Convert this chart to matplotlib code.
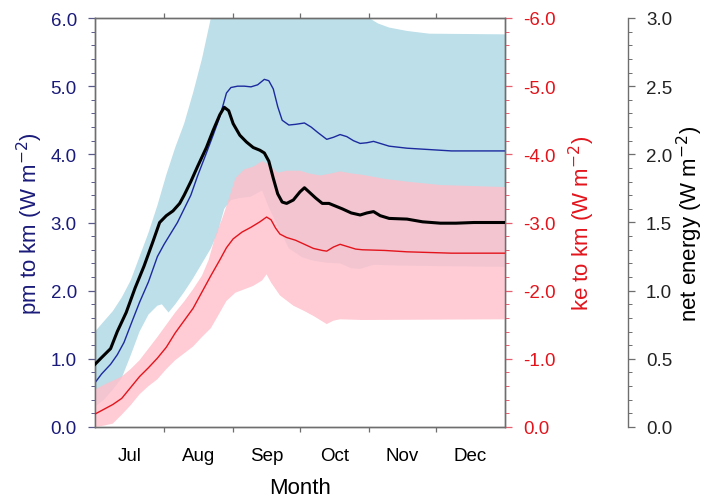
import matplotlib
matplotlib.use("Agg")
import matplotlib.pyplot as plt
from matplotlib.ticker import MultipleLocator, AutoMinorLocator, FormatStrFormatter, FixedLocator, NullFormatter

plt.rcParams["font.family"] = ["Liberation Sans", "DejaVu Sans"]
plt.rcParams["axes.unicode_minus"] = False

# days since 1 Jul
month_starts = [31, 62, 92, 123, 153]
month_mids = [15.5, 46.5, 77, 107.5, 138, 168.5]
month_labels = ["Jul", "Aug", "Sep", "Oct", "Nov", "Dec"]

# pm to km (left axis)
pm_days = [0, 3, 7, 10, 13, 17, 20, 24, 28, 31, 34, 37, 40, 43, 46, 50, 53, 56, 59, 61,
           64, 67, 70, 73, 76, 78, 80, 82, 84, 87, 90, 94, 97, 100, 104, 107, 110, 113,
           116, 119, 122, 125, 128, 132, 140, 150, 160, 170, 184]
pm_mean = [0.65, 0.78, 0.92, 1.06, 1.24, 1.58, 1.83, 2.13, 2.50, 2.68, 2.84, 3.00, 3.20,
           3.40, 3.68, 4.02, 4.28, 4.55, 4.90, 4.98, 5.00, 5.00, 4.99, 5.02, 5.10, 5.08,
           4.96, 4.70, 4.50, 4.43, 4.44, 4.46, 4.40, 4.32, 4.22, 4.25, 4.29, 4.26, 4.20,
           4.16, 4.17, 4.19, 4.16, 4.12, 4.09, 4.07, 4.05, 4.05, 4.05]

pm_band_days = [0, 4, 8, 12, 16, 20, 24, 28, 30, 33, 36, 40, 44, 48, 52, 55, 58, 61, 65,
                70, 75, 78, 82, 87, 93, 98, 104, 110, 115, 119, 125, 135, 155, 184]
pm_low = [0.30, 0.40, 0.55, 0.72, 1.05, 1.40, 1.65, 1.78, 1.80, 1.68, 1.80, 1.98, 2.18,
          2.40, 2.62, 2.85, 3.20, 3.33, 3.36, 3.38, 3.47, 3.22, 2.95, 2.62, 2.49, 2.44,
          2.41, 2.40, 2.33, 2.32, 2.38, 2.37, 2.36, 2.35]
pm_up_days = [0, 4, 8, 12, 16, 20, 24, 28, 32, 36, 40, 44, 48, 52, 56, 120, 123, 127,
              132, 140, 150, 184]
pm_up = [1.40, 1.55, 1.70, 1.90, 2.15, 2.50, 2.85, 3.25, 3.70, 4.10, 4.45, 4.90, 5.40,
         6.00, 6.30, 6.30, 6.00, 5.92, 5.86, 5.81, 5.77, 5.76]

# ke to km (right axis, negative)
ke_days = [0, 4, 8, 12, 16, 20, 24, 28, 32, 36, 40, 44, 48, 52, 56, 59, 62, 66, 70, 74,
           77, 79, 81, 83, 86, 90, 94, 98, 102, 104, 107, 110, 113, 117, 120, 130, 140,
           150, 160, 184]
ke_mean = [-0.19, -0.26, -0.33, -0.42, -0.58, -0.74, -0.87, -1.01, -1.17, -1.38, -1.56,
           -1.74, -1.98, -2.22, -2.45, -2.63, -2.76, -2.86, -2.93, -3.01, -3.08, -3.04,
           -2.92, -2.83, -2.78, -2.74, -2.68, -2.62, -2.59, -2.58, -2.64, -2.68, -2.65,
           -2.61, -2.60, -2.59, -2.57, -2.56, -2.55, -2.55]

ke_up_days = [0, 4, 8, 12, 16, 20, 24, 28, 32, 36, 40, 44, 48, 51, 54, 57, 60, 63, 67,
              71, 75, 78, 82, 86, 92, 96, 101, 106, 110, 115, 120, 130, 140, 155, 184]
ke_up = [-0.55, -0.62, -0.68, -0.74, -0.85, -0.98, -1.15, -1.32, -1.50, -1.68, -1.84,
         -2.02, -2.22, -2.45, -2.80, -3.05, -3.34, -3.65, -3.78, -3.82, -3.90, -3.85,
         -3.73, -3.76, -3.76, -3.72, -3.69, -3.72, -3.75, -3.72, -3.70, -3.64, -3.60,
         -3.55, -3.52]
ke_low_days = [0, 4, 8, 12, 16, 20, 24, 28, 32, 36, 40, 44, 48, 52, 55, 59, 63, 67, 71,
               75, 77, 79, 83, 89, 94, 98, 104, 107, 110, 120, 184]
ke_low = [0.0, -0.02, -0.05, -0.18, -0.32, -0.48, -0.60, -0.70, -0.85, -0.98, -1.08,
          -1.18, -1.32, -1.45, -1.62, -1.85, -1.97, -2.02, -2.07, -2.15, -2.24, -2.12,
          -1.93, -1.78, -1.70, -1.63, -1.51, -1.56, -1.58, -1.57, -1.58]

# net energy (far right axis)
net_days = [0, 3, 7, 10, 14, 18, 22, 26, 29, 32, 35, 38, 40, 43, 46, 50, 53, 56, 58, 60,
            62, 65, 68, 71, 74, 76, 78, 80, 82, 84, 86, 89, 92, 94, 96, 99, 102, 105,
            108, 111, 115, 119, 122, 125, 128, 132, 140, 147, 155, 162, 170, 184]
net = [0.46, 0.51, 0.575, 0.70, 0.84, 1.02, 1.18, 1.36, 1.50, 1.55, 1.585, 1.64, 1.70,
       1.80, 1.91, 2.05, 2.175, 2.29, 2.345, 2.32, 2.225, 2.14, 2.09, 2.05, 2.03, 2.01,
       1.95, 1.825, 1.71, 1.65, 1.64, 1.665, 1.725, 1.755, 1.725, 1.68, 1.64, 1.64,
       1.62, 1.60, 1.57, 1.555, 1.57, 1.58, 1.55, 1.53, 1.525, 1.505, 1.495, 1.495,
       1.50, 1.50]

navy = "#1a1a7a"
blue = "#1c2a9e"
red = "#e3141c"
spine_gray = "#6e6e6e"
FS_TICK = 13.5
FS_LABEL = 16


def fill_band(axis, d_lo, lo, d_hi, hi, **kw):
    # polygon: lower edge forward, upper edge back
    xs = list(d_lo) + list(d_hi)[::-1]
    ys = list(lo) + list(hi)[::-1]
    axis.fill(xs, ys, lw=0, **kw)


fig = plt.figure(figsize=(7.07, 5.02), dpi=100)
ax = fig.add_axes([95 / 707, 74 / 502, 410 / 707, 409 / 502])
ax2 = ax.twinx()
ax3 = ax.twinx()

fill_band(ax, pm_band_days, pm_low, pm_up_days, pm_up, color="#bcdfe9", zorder=1)
ax.plot(pm_days, pm_mean, color=blue, lw=1.0, zorder=3)

fill_band(ax2, ke_low_days, ke_low, ke_up_days, ke_up, color="#ffc0cb", alpha=0.82, zorder=1)
ax2.plot(ke_days, ke_mean, color=red, lw=1.0, zorder=3)

ax3.plot(net_days, net, color="black", lw=2.2, zorder=4)

ax.set_xlim(0, 184)
ax.set_ylim(0, 6)
ax2.set_ylim(0, -6)
ax3.set_ylim(0, 3)

# x axis: month boundaries as ticks, names centred in between
ax.xaxis.set_major_locator(FixedLocator(month_starts))
ax.xaxis.set_major_formatter(NullFormatter())
ax.xaxis.set_minor_locator(FixedLocator(month_mids))
ax.xaxis.set_minor_formatter(plt.FixedFormatter(month_labels))
ax.tick_params(axis="x", which="major", direction="out", length=3.8, width=0.9,
               color=spine_gray, top=True, bottom=True)
ax.tick_params(axis="x", which="minor", length=0, pad=14.5, labelsize=FS_TICK, labelcolor="black")
ax.set_xlabel("Month", fontsize=FS_LABEL, labelpad=9)

for a in (ax, ax2, ax3):
    for s in a.spines.values():
        s.set_color(spine_gray)
        s.set_linewidth(1.0)

# left axis
ax.yaxis.set_major_locator(MultipleLocator(1.0))
ax.yaxis.set_minor_locator(AutoMinorLocator(5))
ax.yaxis.set_major_formatter(FormatStrFormatter("%.1f"))
ax.tick_params(axis="y", which="major", direction="out", length=5, width=0.9,
               color="#5a5a8a", labelcolor=navy, labelsize=FS_TICK, pad=8)
ax.tick_params(axis="y", which="minor", direction="out", length=3, width=0.7, color="#5a5a8a")
ax.set_ylabel("pm to km (W m$^{-2}$)", color=navy, fontsize=FS_LABEL, labelpad=4)

# right axis (ke, inverted)
ax2.yaxis.set_major_locator(MultipleLocator(1.0))
ax2.yaxis.set_minor_locator(AutoMinorLocator(5))
ax2.yaxis.set_major_formatter(FormatStrFormatter("%.1f"))
ax2.tick_params(axis="y", which="major", direction="out", length=5, width=0.9,
                color="#e86070", labelcolor=red, labelsize=FS_TICK, pad=8)
ax2.tick_params(axis="y", which="minor", direction="out", length=3, width=0.7, color="#e86070")
ax2.set_ylabel("ke to km (W m$^{-2}$)", color=red, fontsize=FS_LABEL, labelpad=8)

# far right axis (net)
ax3.spines["right"].set_position(("axes", 1.30))
for side in ("left", "top", "bottom"):
    ax3.spines[side].set_visible(False)
ax3.yaxis.set_major_locator(MultipleLocator(0.5))
ax3.yaxis.set_minor_locator(AutoMinorLocator(5))
ax3.yaxis.set_major_formatter(FormatStrFormatter("%.1f"))
ax3.tick_params(axis="y", which="major", direction="out", length=5, width=0.9,
                color=spine_gray, labelcolor="#222222", labelsize=FS_TICK, pad=8)
ax3.tick_params(axis="y", which="minor", direction="out", length=3, width=0.7, color=spine_gray)
ax3.set_ylabel("net energy (W m$^{-2}$)", color="black", fontsize=FS_LABEL, labelpad=2)

fig.savefig("out.png", dpi=100)
